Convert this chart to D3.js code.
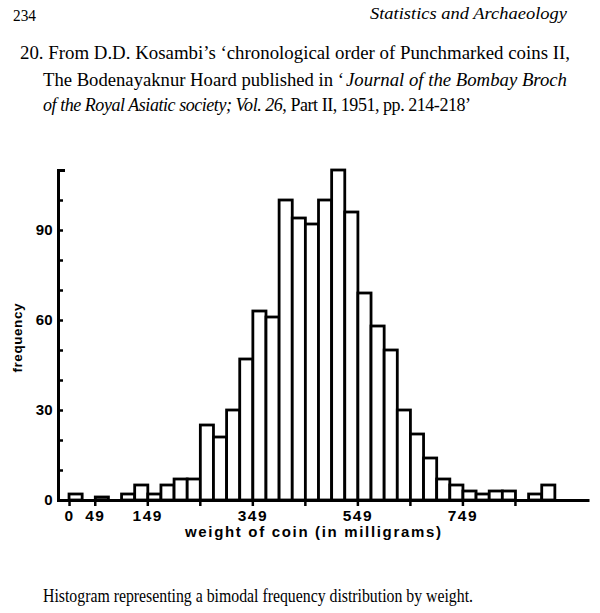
<!DOCTYPE html>
<html>
<head>
<meta charset="utf-8">
<script src="https://cdn.jsdelivr.net/npm/d3@7"></script>
<style>
  body { margin: 0; background: #fff; }
  svg { display: block; }
</style>
</head>
<body>
<svg id="chart"></svg>
<script>
// start of each 25 mg weight class
var binStarts = [0, 25, 50, 75, 100, 125, 150, 175, 200, 225, 250, 275, 300,
                 325, 350, 375, 400, 425, 450, 475, 500, 525, 550, 575, 600,
                 625, 650, 675, 700, 725, 750, 775, 800, 825, 850, 875, 900];
var binWidth = 25;

// number of coins in each class
var frequency = [2, 0, 1, 0, 2, 5, 2, 5, 7, 7, 25, 21, 30,
                 47, 63, 61, 100, 94, 92, 100, 110, 96, 69, 58, 50,
                 30, 22, 14, 7, 5, 3, 2, 3, 3, 0, 2, 5];

// tick labels as printed
var xTicks = [0, 49, 149, 249, 349, 449, 549, 649, 749, 849];
var xLabels = [0, 49, 149, 349, 549, 749];
var yTicks = [0, 10, 20, 30, 40, 50, 60, 70, 80, 90, 100, 110];
var yLabels = [0, 30, 60, 90];

var svg = d3.select("#chart")
  .attr("width", 600)
  .attr("height", 613);

svg.append("rect")
  .attr("width", 600)
  .attr("height", 613)
  .style("fill", "#fff");

// ---- page text ----
var serif = "'Liberation Serif', 'Times New Roman', Times, serif";

function pageText(px, py, len, size, italic, anchor, str) {
  return svg.append("text")
    .attr("x", px).attr("y", py)
    .attr("text-anchor", anchor || "start")
    .attr("textLength", len).attr("lengthAdjust", "spacingAndGlyphs")
    .style("font-family", serif).style("font-size", size + "px")
    .style("font-style", italic ? "italic" : "normal")
    .text(str);
}

pageText(13, 21, 23, 16.5, false, "start", "234");
pageText(567, 19, 197, 17, true, "end", "Statistics and Archaeology");

pageText(20, 59, 550, 19, false, "start",
  "20. From D.D. Kosambi\u2019s \u2018chronological order of Punchmarked coins II,");
pageText(43, 86, 301, 19, false, "start", "The Bodenayaknur Hoard published in \u2018");
pageText(346, 86, 221, 19, true, "start", "Journal of the Bombay Broch");

// third line keeps its italic and roman runs in one text element
var line3 = svg.append("text")
  .attr("x", 43).attr("y", 111)
  .attr("textLength", 428).attr("lengthAdjust", "spacing")
  .style("font-family", serif).style("font-size", "18px");
line3.append("tspan").style("font-style", "italic").text("of the Royal Asiatic society; Vol. 26");
line3.append("tspan").text(", Part II, 1951, pp. 214-218\u2019");

pageText(43, 602, 430, 18.5, false, "start",
  "Histogram representing a bimodal frequency distribution by weight.");

// ---- histogram ----
var sans = "'Liberation Sans', Arial, Helvetica, sans-serif";

var x = d3.scaleLinear().domain([-21, 990]).range([58, 589]);
var y = d3.scaleLinear().domain([0, 110]).range([500, 170]);

var bins = binStarts.map(function (s, i) {
  return { start: s, count: frequency[i] };
});

svg.append("g")
  .selectAll("rect")
  .data(bins.filter(function (d) { return d.count > 0; }))
  .enter().append("rect")
  .attr("x", function (d) { return x(d.start); })
  .attr("y", function (d) { return y(d.count); })
  .attr("width", function (d) { return x(d.start + binWidth) - x(d.start); })
  .attr("height", function (d) { return y(0) - y(d.count); })
  .style("fill", "#fff")
  .style("stroke", "#000")
  .style("stroke-width", "2.8px");

// x axis
var xAxis = svg.append("g")
  .attr("transform", "translate(0," + y(0) + ")")
  .call(d3.axisBottom(x)
    .tickValues(xTicks)
    .tickSize(6)
    .tickSizeOuter(0)
    .tickPadding(4)
    .tickFormat(function (d) { return xLabels.indexOf(d) >= 0 ? d : ""; }));

// y axis, ticks point inward
var yAxis = svg.append("g")
  .attr("transform", "translate(" + x(-21) + ",0)")
  .call(d3.axisLeft(y)
    .tickValues(yTicks)
    .tickSize(-5)
    .tickSizeOuter(-7)
    .tickPadding(5)
    .tickFormat(function (d) { return yLabels.indexOf(d) >= 0 ? d : ""; }));

[xAxis, yAxis].forEach(function (g) {
  g.select(".domain").style("stroke", "#000").style("stroke-width", "3px");
  g.selectAll(".tick line").style("stroke", "#000").style("stroke-width", "2.5px");
  g.selectAll(".tick text")
    .style("fill", "#000")
    .style("font-family", sans)
    .style("font-weight", "bold");
});
xAxis.selectAll(".tick text").style("font-size", "15.5px").style("letter-spacing", "1.5px");
yAxis.selectAll(".tick text").style("font-size", "15px").style("letter-spacing", "0.3px");

svg.append("text")
  .attr("x", 313).attr("y", 537)
  .attr("text-anchor", "middle")
  .attr("textLength", 256).attr("lengthAdjust", "spacing")
  .style("font-family", sans).style("font-size", "15px")
  .style("font-weight", "bold")
  .text("weight of coin (in milligrams)");

svg.append("text")
  .attr("transform", "translate(22,338) rotate(-90)")
  .attr("text-anchor", "middle")
  .attr("textLength", 69).attr("lengthAdjust", "spacing")
  .style("font-family", sans).style("font-size", "13.5px")
  .style("font-weight", "bold")
  .text("frequency");
</script>
</body>
</html>
